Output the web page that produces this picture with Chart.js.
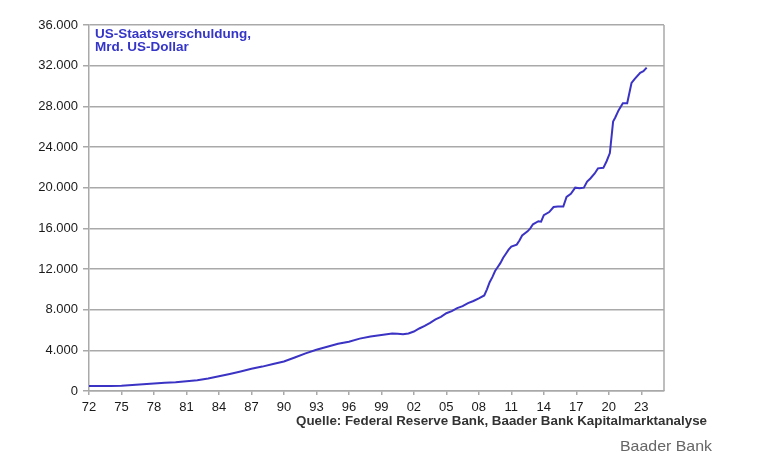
<!DOCTYPE html>
<html>
<head>
<meta charset="utf-8">
<script src="https://cdn.jsdelivr.net/npm/chart.js@4.4.0/dist/chart.umd.min.js"></script>
<style>
  body { margin: 0; background: #fff; }
  #wrap { width: 759px; height: 466px; }
</style>
</head>
<body>
<div id="wrap"><canvas id="chart" width="759" height="466"></canvas></div>
<script>
// Zeitpunkte (Dezimaljahr) und US-Staatsverschuldung in Mrd. US-Dollar
const years = [
  1972, 1973, 1974, 1975, 1976, 1977, 1978, 1979, 1980, 1981,
  1982, 1983, 1984, 1985, 1986, 1987, 1988, 1989, 1990, 1991,
  1992, 1993, 1994, 1995, 1996, 1997, 1998, 1999, 2000, 2000.5,
  2001, 2001.5, 2002, 2002.5, 2003, 2003.5, 2004, 2004.5, 2005, 2005.5,
  2006, 2006.5, 2007, 2007.5, 2008, 2008.5, 2008.75, 2009, 2009.25, 2009.5,
  2009.75, 2010, 2010.25, 2010.5, 2010.75, 2011, 2011.5, 2011.75, 2012, 2012.5,
  2012.75, 2013, 2013.5, 2013.75, 2014, 2014.5, 2014.9, 2015.3, 2015.8, 2016.1,
  2016.5, 2016.9, 2017.3, 2017.7, 2018, 2018.3, 2018.7, 2019, 2019.5, 2019.8,
  2020.1, 2020.4, 2020.6, 2020.9, 2021.3, 2021.7, 2022.1, 2022.4, 2022.9, 2023.2,
  2023.5
];
const debt = [
  480, 490, 500, 520, 590, 660, 740, 800, 860, 960,
  1060, 1230, 1450, 1680, 1920, 2180, 2400, 2650, 2900, 3300,
  3700, 4050, 4350, 4650, 4850, 5150, 5350, 5500, 5650, 5620,
  5580, 5650, 5850, 6150, 6400, 6700, 7050, 7300, 7650, 7850,
  8150, 8350, 8650, 8850, 9100, 9400, 10000, 10700, 11200, 11800,
  12200, 12600, 13100, 13500, 13900, 14200, 14400, 14800, 15300, 15700,
  16000, 16400, 16700, 16650, 17300, 17600, 18100, 18150, 18150, 19100,
  19400, 20000, 19950, 20000, 20600, 20900, 21400, 21900, 21950, 22600,
  23400, 26500, 26900, 27600, 28300, 28300, 30300, 30700, 31300, 31450,
  31800
];
const yTicks = [0, 4000, 8000, 12000, 16000, 20000, 24000, 28000, 32000, 36000];
const xTicks = [1972, 1975, 1978, 1981, 1984, 1987, 1990, 1993, 1996, 1999,
  2002, 2005, 2008, 2011, 2014, 2017, 2020, 2023];
const titleLines = ['US-Staatsverschuldung,', 'Mrd. US-Dollar'];
const sourceText = 'Quelle: Federal Reserve Bank, Baader Bank Kapitalmarktanalyse';
const brandText = 'Baader Bank';

const FONT = '"Liberation Sans", Arial, sans-serif';
const GRID = '#a9a9a9';

function fmt(v) {
  return String(v).replace(/\B(?=(\d{3})+(?!\d))/g, '.');
}

// Text im Diagramm und darunter
const textPlugin = {
  id: 'texte',
  afterDraw(chart) {
    const { ctx, chartArea: { left, right, top, bottom } } = chart;
    ctx.save();
    // rechter Rahmen
    ctx.strokeStyle = GRID;
    ctx.lineWidth = 1.5;
    ctx.beginPath();
    ctx.moveTo(right, top);
    ctx.lineTo(right, bottom);
    ctx.stroke();

    ctx.fillStyle = '#3535c8';
    ctx.font = 'bold 13.5px ' + FONT;
    ctx.textBaseline = 'middle';
    ctx.textAlign = 'left';
    ctx.fillText(titleLines[0], left + 6, top + 9);
    ctx.fillText(titleLines[1], left + 6, top + 22);

    // Quelle: auf Breite gestaucht
    ctx.fillStyle = '#333';
    ctx.font = 'bold 12px ' + FONT;
    const w = ctx.measureText(sourceText).width;
    const target = 411;
    ctx.save();
    ctx.translate(296, 422);
    ctx.scale(target / w, 1);
    ctx.fillText(sourceText, 0, 0);
    ctx.restore();

    ctx.fillStyle = '#666';
    ctx.font = '15px ' + FONT;
    const bw = ctx.measureText(brandText).width;
    ctx.save();
    ctx.translate(620, 447);
    ctx.scale(92 / bw, 1);
    ctx.fillText(brandText, 0, 0);
    ctx.restore();
    ctx.restore();
  }
};

new Chart(document.getElementById('chart'), {
  type: 'line',
  data: {
    datasets: [{
      data: years.map((y, i) => ({ x: y, y: debt[i] })),
      borderColor: '#3b33c4',
      borderWidth: 2,
      pointRadius: 0,
      tension: 0,
      fill: false
    }]
  },
  plugins: [textPlugin],
  options: {
    responsive: false,
    animation: false,
    devicePixelRatio: 1,
    layout: { padding: { top: 25, right: 95, left: 0, bottom: 0 } },
    plugins: {
      legend: { display: false },
      tooltip: { enabled: false }
    },
    scales: {
      x: {
        type: 'linear',
        min: 1972,
        max: 2025.1,
        afterBuildTicks: (scale) => { scale.ticks = xTicks.map(v => ({ value: v })); },
        afterFit: (scale) => { scale.height = 75; },
        grid: { drawOnChartArea: false, color: GRID, tickLength: 4, lineWidth: 1.5 },
        border: { color: GRID, width: 1.5 },
        ticks: {
          autoSkip: false,
          maxRotation: 0,
          padding: 5,
          color: '#1a1a1a',
          font: { family: FONT, size: 13 },
          callback: (v) => String(v % 100).padStart(2, '0')
        }
      },
      y: {
        min: 0,
        max: 36000,
        afterBuildTicks: (scale) => { scale.ticks = yTicks.map(v => ({ value: v })); },
        afterFit: (scale) => { scale.width = 89; },
        grid: { color: GRID, tickLength: 6, lineWidth: 1.5 },
        border: { color: GRID, width: 1.5 },
        ticks: {
          padding: 5,
          color: '#1a1a1a',
          font: { family: FONT, size: 13 },
          callback: (v) => fmt(v)
        }
      }
    }
  }
});
</script>
</body>
</html>
